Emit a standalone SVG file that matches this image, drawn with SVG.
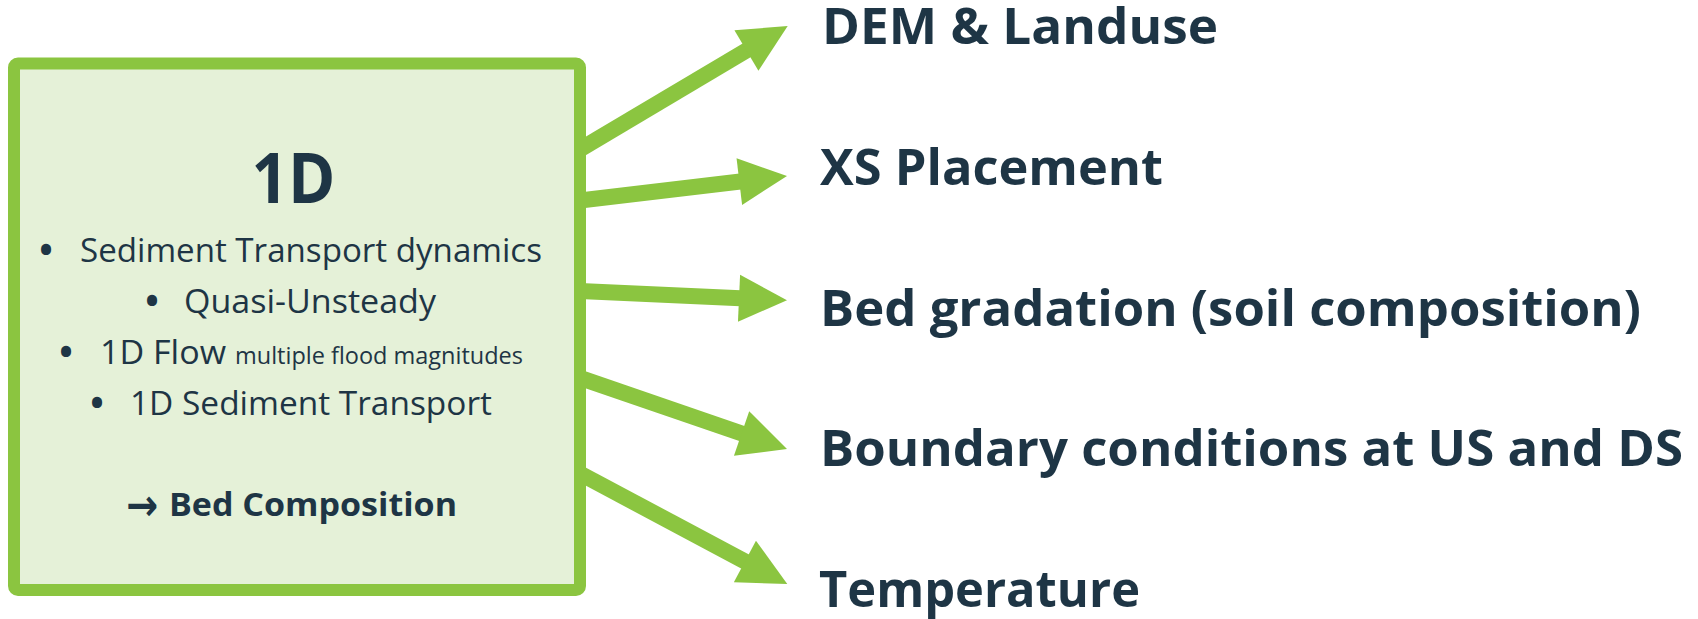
<svg xmlns="http://www.w3.org/2000/svg" width="1698" height="619" viewBox="0 0 1698 619">
  <defs>
    <style>
      .box { fill: #E5F1D8; stroke: #8BC540; stroke-width: 12; }
      .shaft { fill: none; stroke: #8BC540; stroke-width: 16; stroke-linecap: butt; marker-end: url(#head); }
      .ink { fill: #1E3545; font-family: "Open Sans", "Noto Sans", "DejaVu Sans", sans-serif; }
      .title { font-size: 70px; font-weight: 700; }
      .item { font-size: 33px; font-weight: 400; }
      .dot { font-size: 36px; font-weight: 700; }
      .small { font-size: 23px; font-weight: 400; }
      .result { font-size: 33px; font-weight: 700; }
      .arrowglyph { font-family: "DejaVu Sans", sans-serif; font-size: 44px; font-weight: 700; }
      .label { font-size: 51px; font-weight: 700; }
    </style>
    <marker id="head" markerUnits="userSpaceOnUse" viewBox="-20 -25 52 50" markerWidth="52" markerHeight="50" refX="0" refY="0" orient="auto" overflow="visible">
      <path d="M-18,-23.5 L30,0 L-18,23.5 Z" fill="#8BC540"/>
    </marker>
  </defs>

  <!-- connectors: shafts end 30px short of the tip; the marker carries the head -->
  <g id="connectors">
    <path class="shaft" d="M580,149.4 L761.9,41.3"/>
    <path class="shaft" d="M580,200.5 L757.2,179.5"/>
    <path class="shaft" d="M580,291 L757,299"/>
    <path class="shaft" d="M580,377.9 L758.6,439.3"/>
    <path class="shaft" d="M580,473.5 L760.8,569.9"/>
  </g>

  <!-- 1D model box -->
  <g id="node-1d">
    <rect class="box" x="14" y="63.5" width="566" height="526.5" rx="4"/>
    <text class="ink title" x="293.4" y="203" text-anchor="middle" textLength="84" lengthAdjust="spacingAndGlyphs">1D</text>

    <text class="ink dot" x="46" y="263" text-anchor="middle">•</text>
    <text class="ink item" x="80" y="262" textLength="462" lengthAdjust="spacingAndGlyphs">Sediment Transport dynamics</text>

    <text class="ink dot" x="152" y="314" text-anchor="middle">•</text>
    <text class="ink item" x="184" y="313" textLength="252" lengthAdjust="spacingAndGlyphs">Quasi-Unsteady</text>

    <text class="ink dot" x="66" y="365" text-anchor="middle">•</text>
    <text class="ink item" x="100" y="364" textLength="126" lengthAdjust="spacingAndGlyphs">1D Flow</text>
    <text class="ink small" x="235" y="364" textLength="288" lengthAdjust="spacingAndGlyphs">multiple flood magnitudes</text>

    <text class="ink dot" x="97" y="416" text-anchor="middle">•</text>
    <text class="ink item" x="130" y="415" textLength="362" lengthAdjust="spacingAndGlyphs">1D Sediment Transport</text>

    <text class="ink arrowglyph" x="126" y="520" textLength="32" lengthAdjust="spacingAndGlyphs">→</text>
    <text class="ink result" x="169" y="516" textLength="288" lengthAdjust="spacingAndGlyphs">Bed Composition</text>
  </g>

  <!-- input labels -->
  <g id="node-dem">
    <text class="ink label" x="822" y="44" textLength="396" lengthAdjust="spacingAndGlyphs">DEM &amp; Landuse</text>
  </g>
  <g id="node-xs">
    <text class="ink label" x="820" y="185" textLength="343" lengthAdjust="spacingAndGlyphs">XS Placement</text>
  </g>
  <g id="node-bed">
    <text class="ink label" x="820" y="326" textLength="821" lengthAdjust="spacingAndGlyphs">Bed gradation (soil composition)</text>
  </g>
  <g id="node-boundary">
    <text class="ink label" x="820" y="466" textLength="863" lengthAdjust="spacingAndGlyphs">Boundary conditions at US and DS</text>
  </g>
  <g id="node-temperature">
    <text class="ink label" x="819" y="606.5" textLength="321" lengthAdjust="spacingAndGlyphs">Temperature</text>
  </g>
</svg>
